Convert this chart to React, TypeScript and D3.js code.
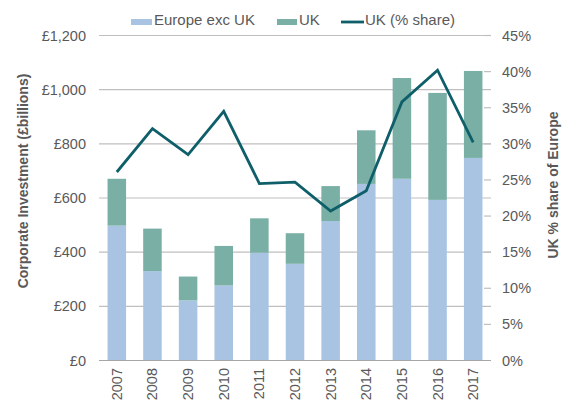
import React from "react";
import * as d3 from "d3";

const years = ["2007","2008","2009","2010","2011","2012","2013","2014","2015","2016","2017"];
const europeExUK = [498, 330, 222, 277, 398, 357, 515, 652, 671, 593, 748];
const ukTotal = [671, 487, 310, 423, 525, 470, 644, 850, 1043, 988, 1069];
const ukShare = [26.1, 32.1, 28.5, 34.5, 24.5, 24.7, 20.7, 23.5, 35.8, 40.2, 30.2];
const leftTicks = [0, 200, 400, 600, 800, 1000, 1200];
const rightTicks = [0, 5, 10, 15, 20, 25, 30, 35, 40, 45];

const W = 570, H = 403;
const FONT = "'Liberation Sans', Arial, sans-serif";
const TXT = "#595959";

export default function App() {
  const x = d3.scaleBand().domain(years).range([99, 491]).paddingInner(0.48).paddingOuter(0.24);
  const yL = d3.scaleLinear().domain([0, 1200]).range([360.5, 35.5]);
  const yR = d3.scaleLinear().domain([0, 45]).range([360.5, 35.5]);
  const line = d3.line<number>().x((_, i) => (x(years[i]) as number) + x.bandwidth() / 2).y((d) => yR(d));
  const fmtL = (v: number) => "£" + d3.format(",")(v);

  return (
    <svg width={W} height={H} style={{ position: "absolute", left: 0, top: 0, fontFamily: FONT }}>
      <rect width={W} height={H} fill="#fff" />
      {leftTicks.slice(1).map((t) => (
        <line key={t} x1={99} x2={491} y1={yL(t)} y2={yL(t)} stroke="#bfbfbf" strokeWidth={1.2} />
      ))}
      {rightTicks.slice(1).map((t) => (
        <line key={"rt" + t} x1={484} x2={491} y1={yR(t)} y2={yR(t)} stroke="#bfbfbf" strokeWidth={1.2} />
      ))}
      {years.map((yr, i) => (
        <g key={yr}>
          <rect x={x(yr)} width={x.bandwidth()} y={yL(europeExUK[i])} height={yL(0) - yL(europeExUK[i])} fill="#a9c4e3" />
          <rect x={x(yr)} width={x.bandwidth()} y={yL(ukTotal[i])} height={yL(europeExUK[i]) - yL(ukTotal[i])} fill="#7aafa5" />
        </g>
      ))}
      <line x1={99} x2={491} y1={360.5} y2={360.5} stroke="#a6a6a6" strokeWidth={1.2} />
      <path d={line(ukShare) || ""} fill="none" stroke="#0e5f69" strokeWidth={2.8} strokeLinejoin="miter" />
      {leftTicks.map((t) => (
        <text key={"l" + t} x={86} y={yL(t)} dy="0.35em" textAnchor="end" fontSize={14.5} fill={TXT}>{fmtL(t)}</text>
      ))}
      {rightTicks.map((t) => (
        <text key={"r" + t} x={502} y={yR(t)} dy="0.35em" textAnchor="start" fontSize={14.5} fill={TXT}>{t + "%"}</text>
      ))}
      {years.map((yr) => {
        const cx = (x(yr) as number) + x.bandwidth() / 2;
        return (
          <text key={"x" + yr} transform={`translate(${cx + 5},368) rotate(-90)`} textAnchor="end" fontSize={14.5} fill={TXT}>{yr}</text>
        );
      })}
      <text transform="translate(28,181) rotate(-90)" textAnchor="middle" fontSize={14} fontWeight="bold" fill={TXT}>Corporate Investment (£billions)</text>
      <text transform="translate(558,185) rotate(-90)" textAnchor="middle" fontSize={14} fontWeight="bold" fill={TXT}>UK % share of Europe</text>
      <g fontSize={15} fill={TXT}>
        <rect x={131} y={19} width={21} height={6} fill="#a9c4e3" />
        <text x={154} y={24.5}>Europe exc UK</text>
        <rect x={277} y={19} width={20} height={6} fill="#7aafa5" />
        <text x={299} y={24.5}>UK</text>
        <line x1={341} x2={364} y1={22} y2={22} stroke="#0e5f69" strokeWidth={2.8} />
        <text x={365} y={24.5}>UK (% share)</text>
      </g>
    </svg>
  );
}
